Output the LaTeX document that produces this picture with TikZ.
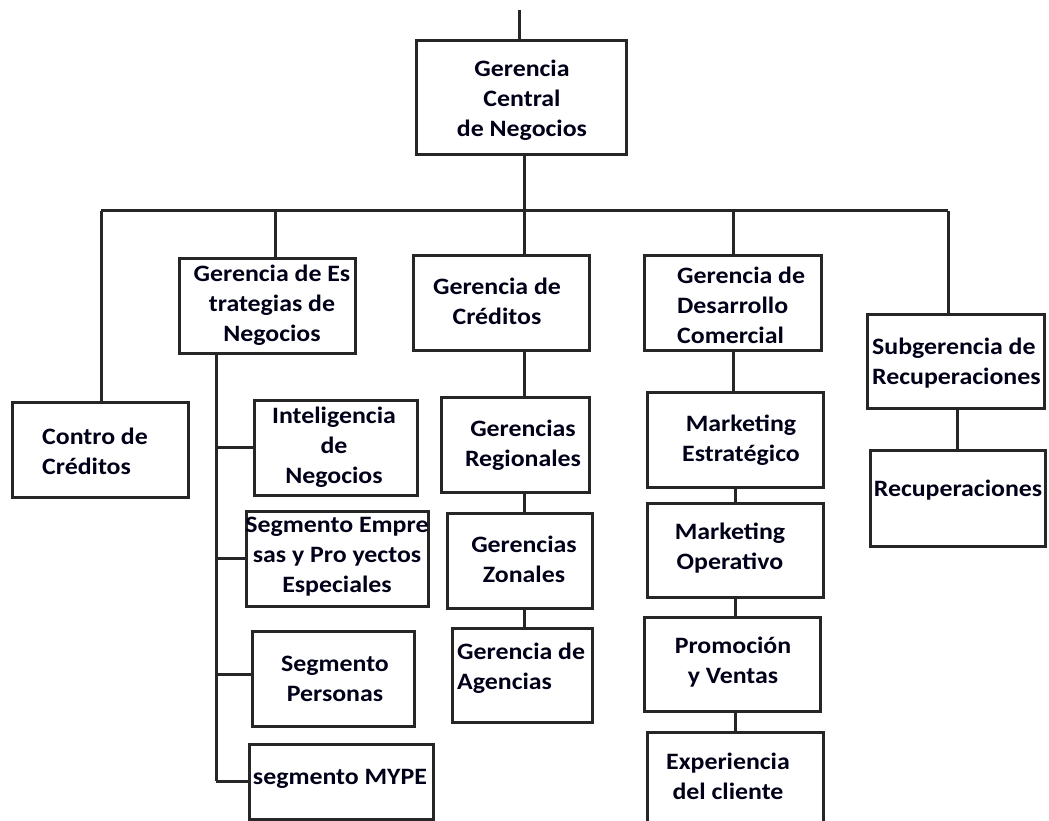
\documentclass[tikz,border=0pt]{standalone}
\usepackage{fontspec}
\newfontfamily\orgfont[FakeStretch=1.1]{Carlito}
\begin{document}
\begin{tikzpicture}[x=1pt,y=-1pt,
  conn/.style={line width=3pt, draw=black!85},
  box/.style={draw=black!85, line width=3pt, rectangle, inner sep=0pt, fill=white},
  txt/.style={font=\orgfont\bfseries\fontsize{23.5}{30}\selectfont, text=black!90!blue, inner sep=0pt},
  ctxt/.style={txt, align=center},
  ltxt/.style={txt, align=left}]
\useasboundingbox (0,0) rectangle (1049,821);
% boxes: centre (x,y), width, height
\node[box, minimum width=210, minimum height=114] (central) at (521,98) {};
\node[box, minimum width=176, minimum height=95] (contro) at (100,449.5) {};
\node[box, minimum width=176, minimum height=95] (estr) at (267,305.5) {};
\node[box, minimum width=163, minimum height=95] (intel) at (335.5,447.5) {};
\node[box, minimum width=182, minimum height=95] (emp) at (337,558.5) {};
\node[box, minimum width=162, minimum height=95] (pers) at (333,678.5) {};
\node[box, minimum width=184, minimum height=75] (mype) at (341,781.5) {};
\node[box, minimum width=176, minimum height=95] (cred) at (501,302.5) {};
\node[box, minimum width=148, minimum height=95] (reg) at (515,444.5) {};
\node[box, minimum width=145, minimum height=95] (zon) at (519.5,560.5) {};
\node[box, minimum width=140, minimum height=94] (agen) at (522,675) {};
\node[box, minimum width=177, minimum height=95] (desa) at (732.5,302.5) {};
\node[box, minimum width=176, minimum height=95] (mkte) at (735,439.5) {};
\node[box, minimum width=176, minimum height=94] (mkto) at (735,550) {};
\node[box, minimum width=176, minimum height=94] (promo) at (732,664) {};
\node[box, minimum width=176, minimum height=104] (expe) at (735,784) {};
\node[box, minimum width=177, minimum height=94] (subg) at (955.5,361) {};
\node[box, minimum width=175, minimum height=96] (recu) at (957.5,498) {};
% texts
\node[ctxt] (t-central) at (522,100) {Gerencia\\Central\\de Negocios};
\node[ltxt, anchor=west] (t-contro) at (42,451) {Contro de\\Créditos};
\node[ctxt] (t-estr) at (272,305) {Gerencia de Es\\trategias de\\Negocios};
\node[ctxt] (t-intel) at (334,447) {Inteligencia\\de\\Negocios};
\node[ctxt] (t-emp) at (337,557) {Segmento Empre\\sas y Pro yectos\\Especiales};
\node[ctxt] (t-pers) at (335,679) {Segmento\\Personas};
\node[ctxt] (t-mype) at (340,779) {segmento MYPE};
\node[ctxt] (t-cred) at (497,301) {Gerencia de\\Créditos};
\node[ctxt] (t-reg) at (523,445.5) {Gerencias\\Regionales};
\node[ctxt] (t-zon) at (524,559.5) {Gerencias\\Zonales};
\node[ltxt, anchor=west] (t-agen) at (457,668) {Gerencia de\\Agencias};
\node[ltxt, anchor=west] (t-desa) at (677,305) {Gerencia de\\Desarrollo\\Comercial};
\node[ctxt] (t-mkte) at (741,440) {Marketing\\Estratégico};
\node[ctxt] (t-mkto) at (730,548) {Marketing\\Operativo};
\node[ctxt] (t-promo) at (733,662.5) {Promoción\\y Ventas};
\node[ctxt] (t-expe) at (728,776) {Experiencia\\del cliente};
\node[ltxt, anchor=west] (t-subg) at (872,363) {Subgerencia de\\Recuperaciones};
\node[ctxt] (t-recu) at (958,490) {Recuperaciones};
% connector helpers
\coordinate (topin) at (519,10);
\coordinate (busL) at (101,211);
\coordinate (busR) at (948,211);
\coordinate (colC) at (524,0);
\coordinate (colB) at (275,0);
\coordinate (spB) at (216,0);
\coordinate (colD) at (733,0);
\coordinate (colD2) at (735,0);
\coordinate (colE2) at (957,0);
\coordinate (mypeY) at (0,781);
\coordinate (persY) at (0,674);
% connectors
\draw[conn] (topin) -- (topin |- central.north);
\draw[conn] (busL) -- (busR);
\draw[conn] (busL) -- (busL |- contro.north);
\draw[conn] (colB |- busL) -- (colB |- estr.north);
\draw[conn] (colC |- central.south) -- (colC |- cred.north);
\draw[conn] (colC |- cred.south) -- (colC |- reg.north);
\draw[conn] (colC |- reg.south) -- (colC |- zon.north);
\draw[conn] (colC |- zon.south) -- (colC |- agen.north);
\draw[conn] (colD |- busL) -- (colD |- desa.north);
\draw[conn] (colD |- desa.south) -- (colD |- mkte.north);
\draw[conn] (colD2 |- mkte.south) -- (colD2 |- mkto.north);
\draw[conn] (colD2 |- mkto.south) -- (colD2 |- promo.north);
\draw[conn] (colD2 |- promo.south) -- (colD2 |- expe.north);
\draw[conn] (busR) -- (busR |- subg.north);
\draw[conn] (colE2 |- subg.south) -- (colE2 |- recu.north);
\draw[conn] (spB |- estr.south) -- (spB |- mypeY);
\draw[conn] (spB |- intel.west) -- (intel.west);
\draw[conn] (spB |- emp.west) -- (emp.west);
\draw[conn] (spB |- persY) -- (pers.west |- persY);
\draw[conn] (spB |- mypeY) -- (mype.west |- mypeY);
\end{tikzpicture}
\end{document}
